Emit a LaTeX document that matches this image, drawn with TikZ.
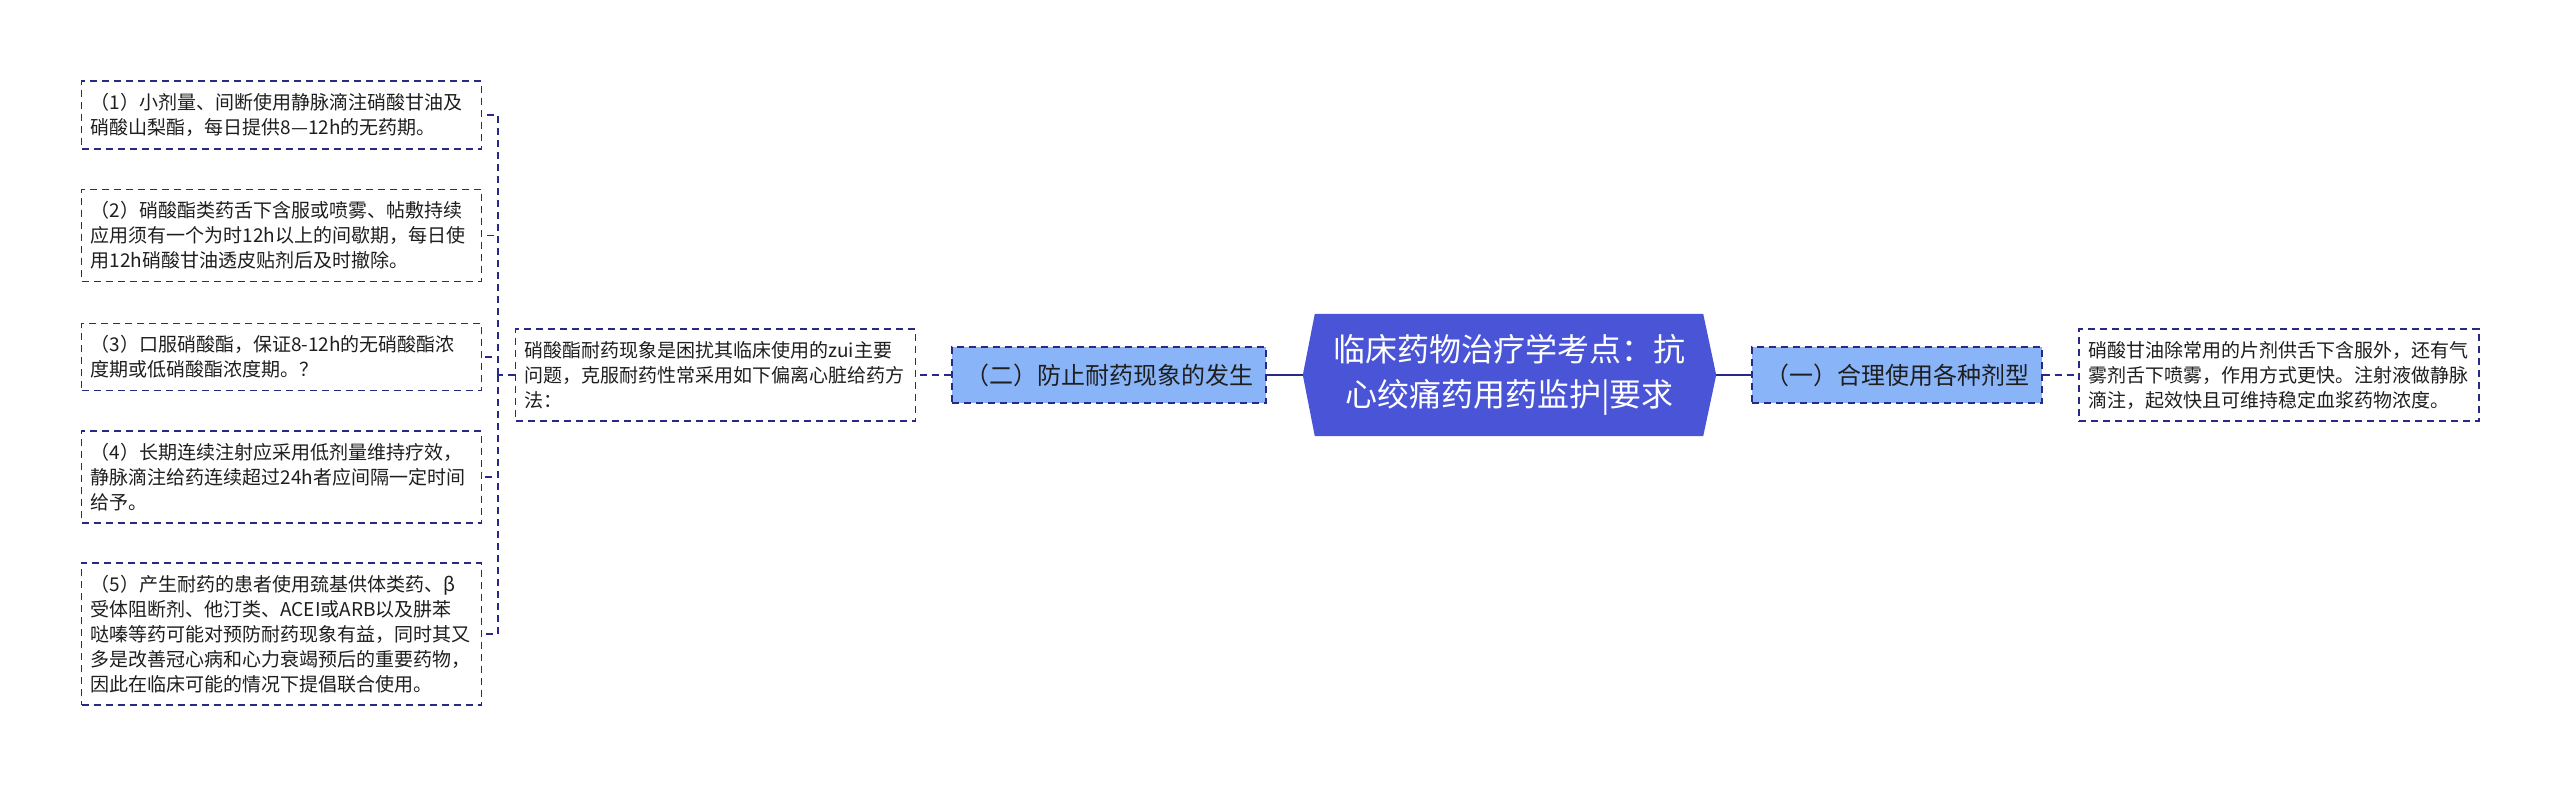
\documentclass[tikz,border=0pt]{standalone}
\usepackage{fontspec}
\setmainfont{Noto Sans CJK SC}
\usepackage{tikz}
\usetikzlibrary{backgrounds}

\definecolor{navyline}{RGB}{40,40,135}
\definecolor{rootfill}{RGB}{74,84,214}
\definecolor{branchfill}{RGB}{138,180,248}
\definecolor{inktext}{RGB}{30,30,30}

\begin{document}
\begin{tikzpicture} [x = 1pt, y = -1pt,
    leaf/.style = {draw = navyline, line width = 1.8pt, dash pattern = on 7pt off 5pt, fill = white, text = inktext,
      align = left, text width = 382pt, inner xsep = 9pt, inner ysep = 12pt, font = \fontsize{19}{25}\selectfont},
    branch/.style = {draw = navyline, line width = 1.8pt, dash pattern = on 7pt off 5pt, fill = branchfill, text = inktext,
      minimum height = 56pt, inner xsep = 13pt, font = \fontsize{24}{30}\selectfont},
    link/.style = {draw = navyline, line width = 1.8pt, dash pattern = on 7pt off 5pt},
    trunk/.style = {draw = navyline, line width = 2.5pt}]
      \useasboundingbox (0,0) rectangle (2560,787);

      % 中心主题
      \node [minimum width = 413pt, minimum height = 122pt, text = white, align = center,
        font = \fontsize{32}{45}\selectfont] (root) at (1509.5, 375) {临床药物治疗学考点：抗\\心绞痛药用药监护|要求};
      \begin{scope}[on background layer]
        \fill [rootfill] (root.west) -- ([xshift = 12pt]root.north west) -- ([xshift = -13pt]root.north east)
          -- (root.east) -- ([xshift = -13pt]root.south east) -- ([xshift = 12pt]root.south west) -- cycle;
      \end{scope}

      % 分支
      \node [branch] (er) at (1109, 375) {（二）防止耐药现象的发生};
      \node [branch] (yi) at (1897, 375) {（一）合理使用各种剂型};

      % 说明
      \node [leaf] (cause) at (715.5, 375) {硝酸酯耐药现象是困扰其临床使用的zui主要\\问题，克服耐药性常采用如下偏离心脏给药方\\法：};
      \node [leaf] (form) at (2279, 375) {硝酸甘油除常用的片剂供舌下含服外，还有气\\雾剂舌下喷雾，作用方式更快。注射液做静脉\\滴注，起效快且可维持稳定血浆药物浓度。};

      % 方法
      \node [leaf] (m1) at (281.5, 115) {（1）小剂量、间断使用静脉滴注硝酸甘油及\\硝酸山梨酯，每日提供8—12h的无药期。};
      \node [leaf] (m2) at (281.5, 235.5) {（2）硝酸酯类药舌下含服或喷雾、帖敷持续\\应用须有一个为时12h以上的间歇期，每日使\\用12h硝酸甘油透皮贴剂后及时撤除。};
      \node [leaf] (m3) at (281.5, 357) {（3）口服硝酸酯，保证8-12h的无硝酸酯浓\\度期或低硝酸酯浓度期。？};
      \node [leaf] (m4) at (281.5, 477) {（4）长期连续注射应采用低剂量维持疗效，\\静脉滴注给药连续超过24h者应间隔一定时间\\给予。};
      \node [leaf] (m5) at (281.5, 634) {（5）产生耐药的患者使用巯基供体类药、β\\受体阻断剂、他汀类、ACEI或ARB以及肼苯\\哒嗪等药可能对预防耐药现象有益，同时其又\\多是改善冠心病和心力衰竭预后的重要药物，\\因此在临床可能的情况下提倡联合使用。};

      % 连线
      \draw [trunk] (root.west) -- (er.east);
      \draw [trunk] (root.east) -- (yi.west);
      \draw [link] (er.west) -- (cause.east);
      \draw [link] (yi.east) -- (form.west);
      \coordinate (fork) at (498, 375);
      \draw [link] (cause.west) -- (fork);
      \draw [link] (fork) |- (m1.east);
      \draw [link] (fork) |- (m2.east);
      \draw [link] (fork) |- (m3.east);
      \draw [link] (fork) |- (m4.east);
      \draw [link] (fork) |- (m5.east);
    \end{tikzpicture}
\end{document}
